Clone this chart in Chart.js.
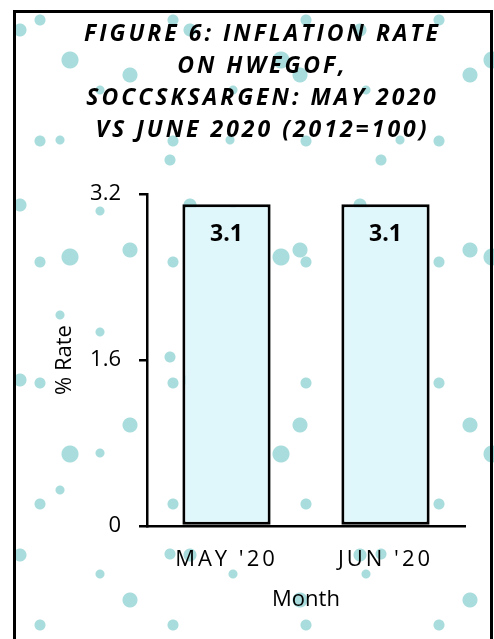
<!DOCTYPE html>
<html>
<head>
<meta charset="utf-8">
<script src="https://cdn.jsdelivr.net/npm/chart.js@4/dist/chart.umd.min.js"></script>
<style>
  html, body { margin: 0; padding: 0; }
  body {
    width: 494px;
    height: 639px;
    overflow: hidden;
    position: relative;
    background-color: #fff;
    background-image:
      radial-gradient(circle at 20px 30px, #a9dcdc 6px, transparent 7px),
      radial-gradient(circle at 130px 75px, #a9dcdc 7px, transparent 8px),
      radial-gradient(circle at 60px 140px, #a9dcdc 4px, transparent 5px),
      radial-gradient(circle at 40px 20px, #a9dcdc 5px, transparent 6px),
      radial-gradient(circle at 100px 90px, #a9dcdc 4px, transparent 5px),
      radial-gradient(circle at 70px 60px, #a9dcdc 8px, transparent 9px),
      radial-gradient(circle at 170px 160px, #a9dcdc 5px, transparent 6px);
    background-size: 170px 175px, 170px 175px, 170px 175px, 133px 121px, 133px 121px, 211px 197px, 211px 197px;
  }
  #frame {
    position: absolute;
    left: 13px;
    top: 10px;
    width: 480px;
    height: 700px;
    box-sizing: border-box;
    border: 3px solid #000;
  }
  #wrap { position: absolute; left: 0; top: 0; width: 494px; height: 639px; }
</style>
</head>
<body>
<div id="frame"></div>
<div id="wrap"><canvas id="chart"></canvas></div>
<script>
const titleLines = ["FIGURE 6: INFLATION RATE", "ON HWEGOF,", "SOCCSKSARGEN: MAY 2020", "VS JUNE 2020 (2012=100)"];
const months = ["MAY '20", "JUN '20"];
const rates = [3.1, 3.1];
const yTicks = [0, 1.6, 3.2];

const fontFamily = "'Open Sans', sans-serif";

// draw one element's text with letter spacing (and an optional x shift)
function spaced(obj, method, spacing, dx) {
  if (!obj || obj["__sp_" + method]) return;
  const orig = obj[method];
  obj[method] = function (...args) {
    const ctx = this.ctx;
    ctx.save();
    ctx.letterSpacing = spacing;
    ctx.translate(dx || 0, 0);
    orig.apply(this, args);
    ctx.restore();
  };
  obj["__sp_" + method] = true;
}

const spacingPlugin = {
  id: "spacing",
  afterLayout(chart) {
    spaced(chart.titleBlock, "draw", "3px", 6);
    spaced(chart.scales.x, "drawLabels", "3px", 0);
  },
};

const valueLabels = {
  id: "valueLabels",
  afterDatasetsDraw(chart) {
    const ctx = chart.ctx;
    const meta = chart.getDatasetMeta(0);
    ctx.save();
    ctx.font = "bold 23px " + fontFamily;
    ctx.fillStyle = "#000";
    ctx.textAlign = "center";
    ctx.textBaseline = "middle";
    meta.data.forEach((bar, i) => {
      ctx.fillText(rates[i].toFixed(1), bar.x, bar.y + 30);
    });
    ctx.restore();
  },
};

const ctx = document.getElementById("chart").getContext("2d");

const chart = new Chart(ctx, {
  type: "bar",
  data: {
    labels: months,
    datasets: [
      {
        data: rates,
        backgroundColor: "#dff6fb",
        borderColor: "#000",
        borderWidth: 3,
        borderSkipped: false,
        categoryPercentage: 1,
        barPercentage: 0.555,
      },
    ],
  },
  options: {
    responsive: true,
    maintainAspectRatio: false,
    animation: false,
    layout: { padding: { left: 48, right: 29, top: 6, bottom: 22 } },
    plugins: {
      legend: { display: false },
      tooltip: { enabled: false },
      title: {
        display: true,
        text: titleLines,
        color: "#000",
        font: { family: fontFamily, size: 23, weight: "bold", style: "italic", lineHeight: 1.38 },
        padding: { top: 13, bottom: 48 },
      },
    },
    scales: {
      x: {
        grid: { display: false, drawTicks: false },
        border: { display: true, color: "#000", width: 2.5 },
        ticks: { color: "#000", padding: 21, font: { family: fontFamily, size: 22 } },
        title: { display: true, text: "Month", color: "#000", font: { family: fontFamily, size: 22 } },
        afterFit(scale) { scale.height = 91; },
      },
      y: {
        min: 0,
        max: 3.2,
        afterBuildTicks(scale) { scale.ticks = yTicks.map((v) => ({ value: v })); },
        grid: { drawOnChartArea: false, drawTicks: true, tickLength: 8, color: "#000", lineWidth: 2.5 },
        border: { display: true, color: "#000", width: 2.5 },
        ticks: { color: "#000", padding: 18, font: { family: fontFamily, size: 22 } },
        title: { display: true, text: "% Rate", color: "#000", font: { family: fontFamily, size: 22 } },
        afterFit(scale) { scale.width = 99; },
      },
    },
  },
  plugins: [spacingPlugin, valueLabels],
});
</script>
</body>
</html>
